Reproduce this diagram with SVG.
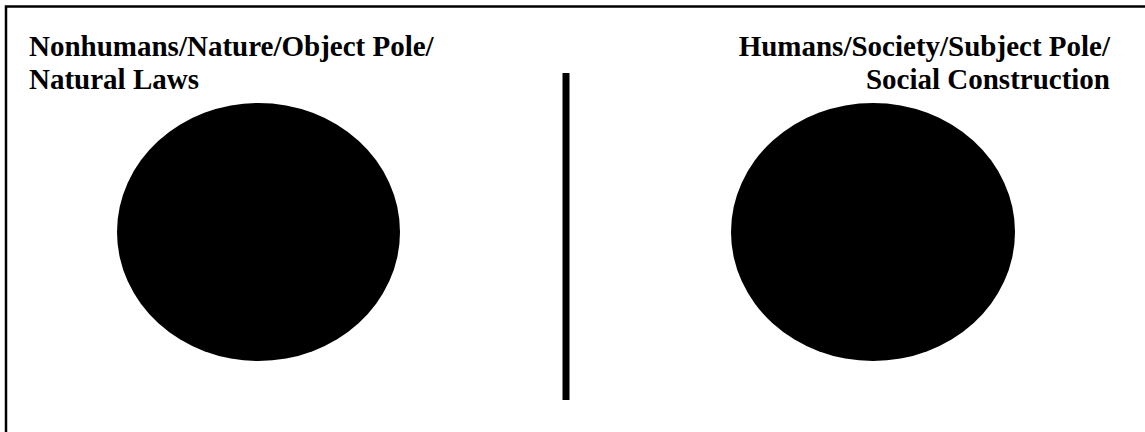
<svg xmlns="http://www.w3.org/2000/svg" width="1145" height="432" viewBox="0 0 1145 432">
<style>
.lbl{font-family:"Liberation Serif","Times New Roman",serif;font-weight:bold;font-size:29px;fill:#000}
.pole{fill:#000}
</style>
<rect width="1145" height="432" fill="#fff"/>
<g id="frame">
<path d="M6,432 V6.5 H1145" fill="none" stroke="#000" stroke-width="2.5"/>
</g>
<g id="nature">
<text class="lbl" x="29" y="56">Nonhumans/Nature/Object Pole/</text>
<text class="lbl" x="29" y="89">Natural Laws</text>
<ellipse class="pole" cx="258.5" cy="232" rx="141.5" ry="129"/>
</g>
<g id="society">
<text class="lbl" x="1110" y="56" text-anchor="end">Humans/Society/Subject Pole/</text>
<text class="lbl" x="1110" y="89" text-anchor="end">Social Construction</text>
<ellipse class="pole" cx="873" cy="232" rx="142" ry="129"/>
</g>
<g id="connectors">
<rect x="562.5" y="73" width="7" height="327" fill="#000"/>
</g>
</svg>
